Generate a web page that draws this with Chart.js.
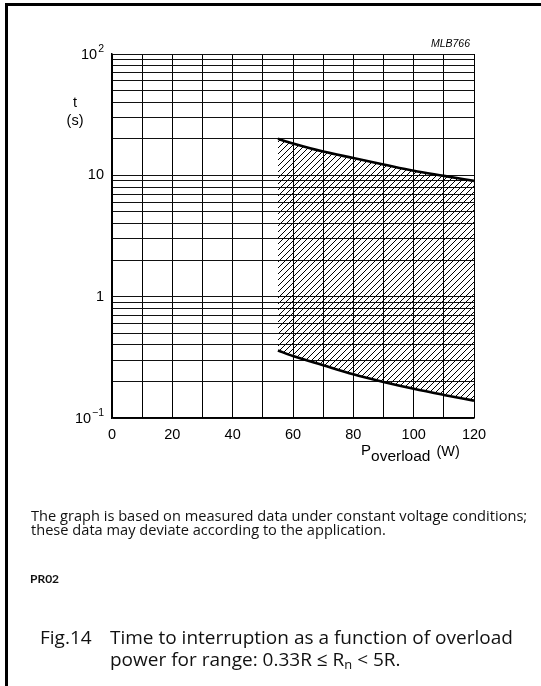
<!DOCTYPE html>
<html><head><meta charset="utf-8">
<script src="https://cdn.jsdelivr.net/npm/chart.js@4"></script>
<style>
html,body{margin:0;padding:0;background:#fff;}
#wrap{position:relative;width:541px;height:686px;overflow:hidden;background:#fff;}
#c{position:absolute;left:0;top:0;}
.frameL{position:absolute;left:5px;top:3px;width:3px;height:683px;background:#000;}
.frameT{position:absolute;left:5px;top:3px;width:536px;height:3px;background:#000;}
.txt{position:absolute;font-family:"Open Sans",Lato,sans-serif;color:#111;white-space:nowrap;}
.note{left:31px;font-size:12.6px;line-height:14px;}
.pr{left:30px;top:572px;font-family:Lato,sans-serif;font-weight:bold;font-size:12px;line-height:14px;}
.cap{font-size:18px;line-height:22px;}
.cap sub{font-size:0.68em;vertical-align:-3px;line-height:0;}
</style></head>
<body>
<div id="wrap">
<canvas id="c" width="541" height="686"></canvas>
<div class="frameL"></div><div class="frameT"></div>
<div class="txt note" id="n1" data-w="496" data-base="521">The graph is based on measured data under constant voltage conditions;</div>
<div class="txt note" id="n2" data-base="535">these data may deviate according to the application.</div>
<div class="txt pr">PR02</div>
<div class="txt cap" id="f0" data-w="53" data-base="644">Fig.14</div>
<div class="txt cap" id="c1" data-w="403" data-base="644">Time to interruption as a function of overload</div>
<div class="txt cap" id="c2" data-base="666">power for range: 0.33R ≤ R<sub>n</sub> &lt; 5R.</div>
</div>
<script>
// ---- data ----
const powerW = [55, 60, 70, 80, 90, 100, 110, 120];
const tUpper = [20, 18.3, 15.7, 13.9, 12.3, 10.9, 9.9, 9.0];
const tLower = [0.36, 0.324, 0.272, 0.229, 0.198, 0.174, 0.155, 0.139];
const xTickLabels = [0, 20, 40, 60, 80, 100, 120];
const yDecades = [0.1, 1, 10, 100];
const yDecadeLabels = [["10", "\u22121"], ["1", ""], ["10", ""], ["10", "2"]];
const codeLabel = "MLB766";

// ---- text fitting (layout only) ----
function place(el, fontPx, baseY) {
  el.style.fontSize = fontPx + 'px';
  el.style.top = '0px';
  // measure baseline offset
  const probe = document.createElement('span');
  probe.style.display = 'inline-block'; probe.style.width = '0'; probe.style.height = '0';
  probe.style.verticalAlign = 'baseline';
  el.insertBefore(probe, el.firstChild);
  const off = probe.getBoundingClientRect().top - el.getBoundingClientRect().top;
  probe.remove();
  el.style.top = (baseY - off) + 'px';
}
function fitWidth(el, target) {
  const fs = parseFloat(getComputedStyle(el).fontSize);
  const w = el.getBoundingClientRect().width;
  return fs * target / w;
}
const n1 = document.getElementById('n1'), n2 = document.getElementById('n2');
const f0 = document.getElementById('f0'), c1 = document.getElementById('c1'), c2 = document.getElementById('c2');
const nfs = fitWidth(n1, 496);
place(n1, nfs, 521); place(n2, nfs, 535);
const cfs = fitWidth(c1, 403);
place(c1, cfs, 644); place(c2, cfs, 666);
f0.style.left = '40px'; c1.style.left = '110px'; c2.style.left = '110px';
place(f0, cfs, 644);
n1.style.left = '31px'; n2.style.left = '31px';

const yGrid = [];
for (let d = 0; d < yDecades.length - 1; d++) {
  for (let m = 1; m <= 9; m++) yGrid.push(+(yDecades[d] * m).toPrecision(3));
}
yGrid.push(yDecades[yDecades.length - 1]);

function hatchPattern() {
  const c = document.createElement('canvas');
  c.width = 6; c.height = 6;
  const g = c.getContext('2d');
  g.strokeStyle = '#000'; g.lineWidth = 1;
  g.beginPath();
  g.moveTo(0, 6); g.lineTo(6, 0);
  g.moveTo(-1, 1); g.lineTo(1, -1);
  g.moveTo(5, 7); g.lineTo(7, 5);
  g.stroke();
  return g.createPattern(c, 'repeat');
}

const FONT = '"Liberation Sans", Arial, sans-serif';

const labelPlugin = {
  id: 'labels',
  afterDraw(chart) {
    const ctx = chart.ctx, xs = chart.scales.x, ys = chart.scales.y;
    ctx.save();
    ctx.fillStyle = '#000';
    ctx.font = '14.5px ' + FONT;
    ctx.textAlign = 'center'; ctx.textBaseline = 'middle';
    xTickLabels.forEach(v => ctx.fillText(String(v), xs.getPixelForValue(v), ys.bottom + 17));
    const right = xs.left - 8;
    yDecades.forEach((v, i) => {
      const [base, sup] = yDecadeLabels[i];
      const py = ys.getPixelForValue(v);
      ctx.textAlign = 'right'; ctx.textBaseline = 'middle';
      if (sup) {
        ctx.font = '10.5px ' + FONT;
        const sw = ctx.measureText(sup).width;
        ctx.fillText(sup, right, py - 5);
        ctx.font = '14.5px ' + FONT;
        ctx.fillText(base, right - sw - 1, py + 1);
      } else {
        ctx.font = '14.5px ' + FONT;
        ctx.fillText(base, right, py);
      }
    });
    ctx.textAlign = 'center'; ctx.textBaseline = 'middle';
    ctx.font = '14.5px ' + FONT;
    ctx.fillText('t', 75, 103);
    ctx.fillText('(s)', 75, 121);
    ctx.textAlign = 'left'; ctx.textBaseline = 'alphabetic';
    let x0 = 361;
    ctx.font = '15px ' + FONT;
    ctx.fillText('P', x0, 455);
    x0 += ctx.measureText('P').width;
    ctx.font = '15.5px ' + FONT;
    ctx.fillText('overload', x0, 461);
    x0 += ctx.measureText('overload').width + 6;
    ctx.font = '14.5px ' + FONT;
    ctx.fillText('(W)', x0, 456);
    ctx.font = 'italic 10.5px ' + FONT;
    ctx.textAlign = 'right';
    ctx.fillText(codeLabel, xs.right - 4, 47);
    ctx.restore();
  }
};

new Chart(document.getElementById('c'), {
  type: 'line',
  data: {
    datasets: [
      { data: powerW.map((p, i) => ({ x: p, y: tUpper[i] })), borderColor: '#000', borderWidth: 2.6,
        pointRadius: 0, fill: false, cubicInterpolationMode: 'monotone' },
      { data: powerW.map((p, i) => ({ x: p, y: tLower[i] })), borderColor: '#000', borderWidth: 2.6,
        pointRadius: 0, fill: '-1', backgroundColor: hatchPattern(), cubicInterpolationMode: 'monotone' }
    ]
  },
  options: {
    responsive: false, animation: false, devicePixelRatio: 1,
    layout: { padding: { left: 112, top: 54, right: 67, bottom: 268 } },
    plugins: { legend: { display: false }, tooltip: { enabled: false } },
    scales: {
      x: { type: 'linear', min: 0, max: 120,
        ticks: { display: false, stepSize: 10 },
        grid: { color: '#000', lineWidth: 1, drawTicks: false },
        border: { display: true, color: '#000', width: 1.5 } },
      y: { type: 'logarithmic', min: 0.1, max: 100,
        afterBuildTicks: (s) => { s.ticks = yGrid.map(v => ({ value: v })); },
        ticks: { display: false },
        grid: { color: '#111', lineWidth: 1, drawTicks: false },
        border: { display: true, color: '#000', width: 1.5 } }
    }
  },
  plugins: [labelPlugin]
});
</script>
</body></html>
